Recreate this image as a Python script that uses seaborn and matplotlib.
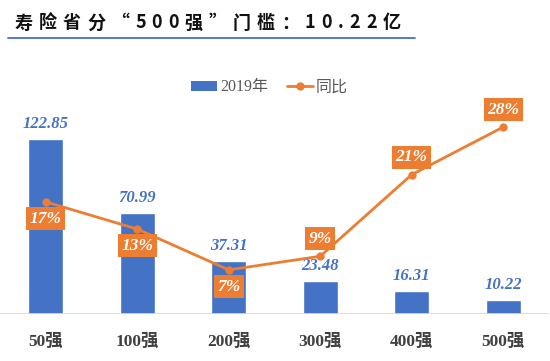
import numpy as np
import pandas as pd
import matplotlib.pyplot as plt
import seaborn as sns
from matplotlib.patches import Patch
from matplotlib.lines import Line2D

# data
categories = ['50强', '100强', '200强', '300强', '400强', '500强']
amount_2019 = [122.85, 70.99, 37.31, 23.48, 16.31, 10.22]
yoy_pct = [17, 13, 7, 9, 21, 28]
pct_label_side = ['below', 'below', 'below', 'above', 'above', 'above']
title = '寿险省分“500强”门槛：10.22亿'

blue = '#4472C4'
orange = '#ED7D31'

sns.set_style('white')
plt.rcParams['font.family'] = ['Liberation Serif', 'Noto Sans CJK SC', 'DejaVu Sans']

df = pd.DataFrame({'cat': categories, 'amt': amount_2019, 'pct': yoy_pct})

fig = plt.figure(figsize=(5.5, 3.61), dpi=100)
ax = fig.add_axes([0.0, 0.130, 0.998, 0.648])

sns.barplot(data=df, x='cat', y='amt', color=blue, saturation=1, width=0.38, ax=ax)
ax.set_ylim(0, 164.2)
ax.set_xlim(-0.5, 5.5)
ax.set_xlabel('')
ax.set_ylabel('')
ax.set_yticks([])
for s in ax.spines.values():
    s.set_visible(False)
ax.axhline(0, color='#D9D9D9', lw=1.2)
ax.tick_params(axis='x', length=0, pad=14)
for lab in ax.get_xticklabels():
    lab.set_fontsize(12.5)
    lab.set_fontweight('bold')
    lab.set_color('#404040')

# bar value labels
for i, v in enumerate(amount_2019):
    ax.annotate(f'{v:.2f}', (i, v), xytext=(0, 5), textcoords='offset points',
                ha='center', va='bottom', fontsize=12, fontstyle='italic',
                fontweight='bold', color=blue, family='Liberation Serif')

# yoy line on secondary axis
ax2 = ax.twinx()
sns.lineplot(x=np.arange(len(yoy_pct)), y=yoy_pct, color=orange, lw=2,
             marker='o', markersize=6, markeredgewidth=0, ax=ax2)
ax2.set_ylim(0.5, 34.9)
ax2.set_yticks([])
ax2.set_ylabel('')
for s in ax2.spines.values():
    s.set_visible(False)

for i, (p, side) in enumerate(zip(yoy_pct, pct_label_side)):
    dy = -12 if side == 'below' else 12.5
    ax2.annotate(f'{p}%', (i, p), xytext=(0, dy), textcoords='offset points',
                 ha='center', va='center', fontsize=12.5, fontstyle='italic',
                 fontweight='bold', color='white', family='Liberation Serif',
                 bbox=dict(boxstyle='square,pad=0.2', fc=orange, ec='none'))

# legend
handles = [Patch(facecolor=blue, edgecolor='none'),
           Line2D([0], [0], color=orange, lw=2, marker='o', markersize=5)]
leg = fig.legend(handles, ['2019年', '同比'], loc='center', bbox_to_anchor=(0.49, 0.758),
                 ncol=2, frameon=False, fontsize=11.5, handlelength=1.6, handleheight=0.6,
                 columnspacing=1.2, handletextpad=0.2)
for t in leg.get_texts():
    t.set_color('#595959')

# title with letter spacing
renderer = fig.canvas.get_renderer()
x = 15
for ch in title:
    t = fig.text(x / 550, 1 - 23 / 361, ch, fontsize=13, fontweight='bold',
                 family=['Noto Sans CJK SC', 'DejaVu Sans'], color='#111111',
                 ha='left', va='center')
    x += t.get_window_extent(renderer).width + 6
fig.add_artist(Line2D([8 / 550, 415 / 550], [1 - 38 / 361, 1 - 38 / 361],
                      color=blue, lw=1.3, transform=fig.transFigure))

fig.savefig('out.png', dpi=100)
